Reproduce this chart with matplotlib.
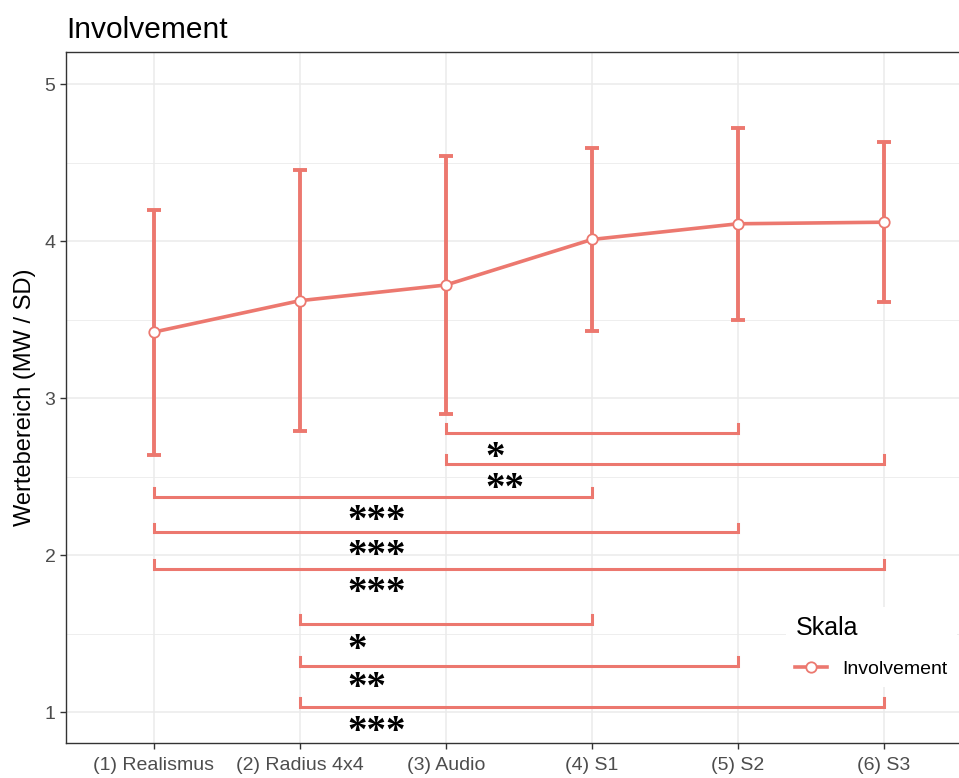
import numpy as np
import matplotlib.pyplot as plt
from matplotlib.ticker import MultipleLocator

plt.rcParams['font.family'] = ['Liberation Sans', 'DejaVu Sans']

# group means and standard deviations
conditions = ['(1) Realismus', '(2) Radius 4x4', '(3) Audio', '(4) S1', '(5) S2', '(6) S3']
means = [3.42, 3.62, 3.72, 4.01, 4.11, 4.12]
sds = [0.78, 0.83, 0.82, 0.58, 0.61, 0.51]

# pairwise comparisons (1-based condition index) with significance level
comp_from = [3, 3, 1, 1, 1, 2, 2, 2]
comp_to = [5, 6, 4, 5, 6, 4, 5, 6]
comp_y = [2.777, 2.58, 2.37, 2.146, 1.911, 1.561, 1.293, 1.032]
comp_sig = ['*', '**', '***', '***', '***', '*', '**', '***']
sig_x = [3.27, 3.27, 2.325, 2.325, 2.325, 2.325, 2.325, 2.325]
sig_y = [2.669, 2.471, 2.268, 2.045, 1.809, 1.446, 1.204, 0.924]

col = '#EC786F'
grid = '#EBEBEB'

fig = plt.figure(figsize=(9.59, 7.78), dpi=100)
# panel runs past the right edge of the figure
ax = fig.add_axes([66 / 959, 35 / 778, 905.7 / 959, 691 / 778])

x = np.arange(1, len(conditions) + 1)
ax.errorbar(x, means, yerr=sds, fmt='none', ecolor=col, elinewidth=2.8,
            capsize=5, capthick=2.8, zorder=3)
ax.plot(x, means, '-o', color=col, lw=2.6, markersize=7.5,
        markerfacecolor='white', markeredgecolor=col, markeredgewidth=1.3,
        zorder=4, label='Involvement')

tick_h = 0.055
for a, b, yb in zip(comp_from, comp_to, comp_y):
    ax.plot([a, a, b, b], [yb + tick_h, yb, yb, yb + tick_h], color=col,
            lw=2.2, solid_joinstyle='miter', zorder=3)
for sx, sy, s in zip(sig_x, sig_y, comp_sig):
    ax.annotate(s, (sx, sy), xytext=(0, -6), textcoords='offset points',
                ha='left', va='center', fontsize=28, fontweight='bold',
                family='Liberation Serif', color='black', zorder=5)

ax.set_xlim(0.4, 6.6)
ax.set_ylim(0.803, 5.204)
ax.set_xticks(x)
ax.set_xticklabels(conditions)
ax.set_yticks([1, 2, 3, 4, 5])
ax.yaxis.set_minor_locator(MultipleLocator(0.5))
ax.tick_params(axis='y', which='minor', length=0)
ax.tick_params(which='major', length=4, width=1, color='#333333',
               labelcolor='#4D4D4D', labelsize=14)
ax.tick_params(axis='x', pad=6)
ax.grid(True, which='major', color=grid, lw=1.1, zorder=0)
ax.grid(True, which='minor', axis='y', color=grid, lw=0.6, zorder=0)
ax.set_axisbelow(True)
for sp in ax.spines.values():
    sp.set_color('#333333')
    sp.set_linewidth(1.0)

ax.set_ylabel('Wertebereich (MW / SD)', fontsize=17, labelpad=6)
ax.set_title('Involvement', loc='left', fontsize=21.5, pad=10)

leg = ax.legend(title='Skala', loc='upper left',
                bbox_to_anchor=(776 / 959, 1 - 597 / 778),
                bbox_transform=fig.transFigure, frameon=True, fancybox=False,
                facecolor='white', edgecolor='none', framealpha=1,
                fontsize=14, title_fontsize=18, handlelength=1.6,
                handletextpad=0.8, alignment='left', borderpad=0.5,
                labelspacing=1.0)
leg.set_zorder(10)

fig.savefig('out.png', dpi=100)
